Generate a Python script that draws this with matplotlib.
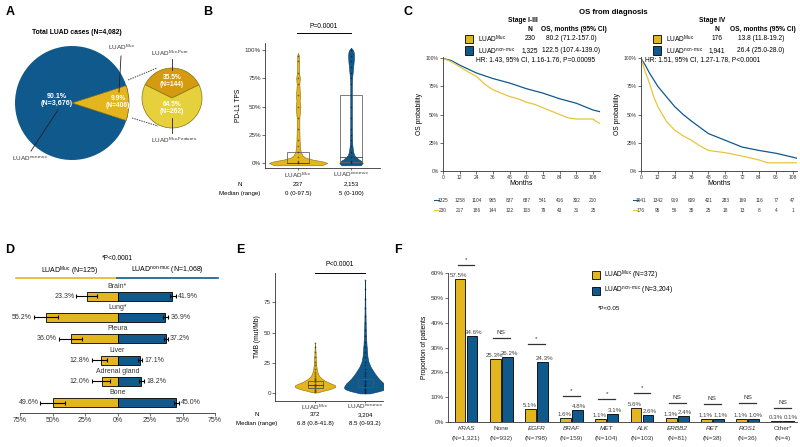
import numpy as np
import matplotlib
matplotlib.use('Agg')
import matplotlib.pyplot as plt
import matplotlib.transforms as mtransforms
from matplotlib.lines import Line2D
from matplotlib.patches import Rectangle

plt.rcParams['font.family'] = ['Liberation Sans', 'DejaVu Sans']
plt.rcParams['mathtext.fontset'] = 'custom'
plt.rcParams['mathtext.rm'] = 'Liberation Sans'
plt.rcParams['mathtext.it'] = 'Liberation Sans:italic'
plt.rcParams['mathtext.bf'] = 'Liberation Sans:bold'

YEL = '#E3B51E'
YEL_KM = '#E8C53A'
BLU = '#10598D'
GOLD = '#D49A10'
LIGHT = '#E6D03C'

MUC = r'LUAD$^{\mathrm{Muc}}$'
NON = 'LUAD$^{\\mathrm{non\u2010muc}}$'
MUC_PURE = 'LUAD$^{\\mathrm{Muc\u2010Pure}}$'
MUC_FEAT = 'LUAD$^{\\mathrm{Muc\u2010Features}}$'

# ---------------- data ----------------
# A: pies
total_vals = [3676, 406]
muc_sub_vals = [144, 262]

# B: PD-L1 TPS violin profiles (value, half width)
tps_muc_grid = [-2, 0, 1, 2, 3, 4, 5, 7, 10, 15, 20, 30, 40, 45, 50, 55, 60, 65, 70, 75, 80, 90, 95, 97.5]
tps_muc_half = [0.45, 0.55, 0.5, 0.4, 0.28, 0.2, 0.13, 0.08, 0.05, 0.035, 0.03, 0.025, 0.025, 0.035,
                0.045, 0.03, 0.04, 0.03, 0.025, 0.035, 0.02, 0.02, 0.015, 0.0]
tps_non_grid = [-2, 0, 1, 2, 3, 5, 7, 10, 15, 20, 30, 40, 50, 60, 70, 75, 80, 85, 90, 95, 98, 100, 102]
tps_non_half = [0.18, 0.22, 0.21, 0.19, 0.15, 0.1, 0.06, 0.04, 0.025, 0.02, 0.015, 0.015, 0.015, 0.015,
                0.015, 0.02, 0.03, 0.04, 0.05, 0.055, 0.05, 0.035, 0.0]
tps_box = {'muc': (0, 0, 10), 'non': (1, 5, 60)}
tps_muc_pts = [0, 1, 2, 5, 10, 15, 20, 30, 40, 50, 60, 70, 75, 80, 90, 95]
tps_non_pts = [0, 1, 2, 5, 10, 15, 20, 25, 30, 40, 50, 60, 70, 75, 80, 85, 90, 95, 100]

# C: KM curves
km_l_blue_m = [0, 6, 12, 24, 36, 48, 60, 72, 84, 96, 108, 113]
km_l_blue_s = [1.0, 0.98, 0.94, 0.87, 0.82, 0.78, 0.73, 0.69, 0.64, 0.60, 0.54, 0.525]
km_l_yel_m = [0, 6, 12, 18, 24, 30, 36, 42, 48, 54, 60, 66, 72, 78, 84, 90, 96, 102, 108, 110, 113]
km_l_yel_s = [1.0, 0.97, 0.925, 0.88, 0.84, 0.77, 0.72, 0.69, 0.66, 0.64, 0.61, 0.59, 0.56, 0.53,
              0.50, 0.47, 0.46, 0.46, 0.46, 0.44, 0.42]
km_r_blue_m = [0, 3, 6, 12, 18, 24, 30, 36, 48, 60, 72, 84, 96, 108, 111]
km_r_blue_s = [1.0, 0.94, 0.87, 0.75, 0.66, 0.57, 0.50, 0.44, 0.33, 0.27, 0.21, 0.18, 0.155, 0.12, 0.11]
km_r_yel_m = [0, 3, 6, 9, 12, 18, 24, 30, 36, 42, 48, 60, 72, 84, 90, 96, 108, 111]
km_r_yel_s = [1.0, 0.88, 0.78, 0.66, 0.57, 0.44, 0.36, 0.31, 0.27, 0.22, 0.18, 0.16, 0.13, 0.095,
              0.07, 0.07, 0.07, 0.07]
risk_months = [0, 12, 24, 36, 48, 60, 72, 84, 96, 108]
risk_l_blue = [1325, 1258, 1104, 965, 837, 687, 541, 416, 302, 210]
risk_l_yel = [230, 217, 186, 144, 122, 103, 79, 43, 31, 25]
risk_r_blue = [1941, 1342, 919, 609, 421, 283, 169, 116, 77, 47]
risk_r_yel = [176, 95, 56, 35, 25, 18, 13, 8, 4, 1]

# D: metastatic sites
sites = ['Brain*', 'Lung*', 'Pleura', 'Liver', 'Adrenal gland', 'Bone']
site_muc = [23.3, 55.2, 36.0, 12.8, 12.0, 49.6]
site_muc_lo = [16.0, 46.0, 27.0, 7.7, 5.6, 40.3]
site_muc_hi = [31.6, 64.5, 45.2, 19.7, 19.7, 59.3]
site_non = [41.9, 36.9, 37.2, 17.1, 18.2, 45.0]
site_non_lo = [40.0, 35.3, 35.5, 15.5, 16.5, 43.5]
site_non_hi = [44.8, 39.2, 39.0, 19.2, 20.5, 47.0]

# E: TMB violin profiles
tmb_muc_grid = [0.8, 2, 3, 4, 5, 6, 7, 8, 10, 12, 14, 16, 20, 25, 30, 35, 41.8]
tmb_muc_half = [0.05, 0.15, 0.25, 0.33, 0.39, 0.41, 0.39, 0.33, 0.22, 0.14, 0.09, 0.06, 0.035,
                0.02, 0.015, 0.01, 0.0]
tmb_non_grid = [0, 1, 2, 3, 4, 5, 6, 8, 10, 12, 15, 18, 22, 26, 30, 35, 40, 50, 60, 70, 80, 93.2]
tmb_non_half = [0.1, 0.2, 0.3, 0.37, 0.41, 0.42, 0.41, 0.38, 0.33, 0.28, 0.22, 0.17, 0.11, 0.07,
                0.05, 0.04, 0.03, 0.018, 0.012, 0.008, 0.005, 0.0]
tmb_muc_pts = [1, 2, 3, 4, 5, 6, 7, 8, 9, 10, 11, 12, 13, 14, 16, 18, 20, 23, 26, 30, 34, 38, 41.8]
tmb_non_pts = [0.5, 1, 2, 3, 4, 5, 6, 7, 8, 9, 10, 12, 14, 16, 18, 20, 23, 26, 30, 34, 38, 42,
               47, 52, 58, 64, 70, 78, 86, 93.2]

# F: driver alterations
genes = ['KRAS', 'None', 'EGFR', 'BRAF', 'MET', 'ALK', 'ERBB2', 'RET', 'ROS1', 'Other*']
gene_italic = [True, False, True, True, True, True, True, True, True, False]
gene_n = ['1,321', '932', '798', '159', '104', '103', '81', '38', '36', '4']
drv_muc = [57.5, 25.3, 5.1, 1.6, 1.1, 5.6, 1.3, 1.1, 1.1, 0.3]
drv_non = [34.6, 26.2, 24.3, 4.8, 3.1, 2.6, 2.4, 1.1, 1.0, 0.1]
drv_sig = ['*', 'NS', '*', '*', '*', '*', 'NS', 'NS', 'NS', 'NS']
drv_sig_y = [63.4, 34.0, 31.5, 10.4, 9.0, 11.7, 7.5, 7.1, 7.5, 5.5]

# ---------------- figure ----------------
W, H = 800, 447
fig = plt.figure(figsize=(8, 4.47), dpi=100)


def pax(x0, y0, x1, y1):
    return fig.add_axes([x0 / W, 1 - y1 / H, (x1 - x0) / W, (y1 - y0) / H])


def ftext(x, y, s, **kw):
    kw.setdefault('ha', 'center')
    kw.setdefault('va', 'center')
    fig.text(x / W, 1 - y / H, s, **kw)


def fline(xs, ys, **kw):
    fig.add_artist(Line2D([x / W for x in xs], [1 - y / H for y in ys], **kw))


def fsquare(x, y, s, color):
    fig.add_artist(Rectangle((x / W, 1 - (y + s) / H), s / W, s / H, transform=fig.transFigure,
                             facecolor=color, edgecolor='k', lw=0.6))


def style_axes(ax, fs=4.5):
    for side in ['top', 'right']:
        ax.spines[side].set_visible(False)
    for side in ['left', 'bottom']:
        ax.spines[side].set_linewidth(0.6)
        ax.spines[side].set_color('#333333')
    ax.tick_params(length=2, width=0.5, labelsize=fs, pad=1, colors='#333333')


# panel letters
for letter, (x, y) in zip('ABCDEF', [(10, 12), (208, 12), (408, 12), (10, 250), (240, 250), (398, 250)]):
    ftext(x, y, letter, fontsize=9, fontweight='bold')

# ---------------- A ----------------
axA = pax(0, 0, 230, 230)
wedges, _ = axA.pie(total_vals, colors=[BLU, YEL], startangle=17.8, center=(72, 127), radius=57,
                    wedgeprops=dict(linewidth=0))
wedges[1].set_edgecolor('#6b5a12')
wedges[1].set_linewidth(0.5)
w2, _ = axA.pie(muc_sub_vals, colors=[GOLD, LIGHT], startangle=26.1, center=(172, 132), radius=30,
                wedgeprops=dict(linewidth=0.6, edgecolor='white'))
for w in w2:
    w.set_edgecolor('#8a7010')
    w.set_linewidth(0.5)
axA.set_xlim(0, 230)
axA.set_ylim(0, 230)
axA.set_aspect('equal')
axA.axis('off')

ftext(77, 32, 'Total LUAD cases (N=4,082)', fontsize=4.9, fontweight='bold')
ftext(57, 100, '90.1%\n(N=3,676)', fontsize=5.1, fontweight='bold', color='white', linespacing=1.1)
ftext(118, 102, '9.9%\n(N=406)', fontsize=4.8, fontweight='bold', color='white', linespacing=1.1)
ftext(172, 81, '35.5%\n(N=144)', fontsize=4.8, fontweight='bold', color='white', linespacing=1.1)
ftext(172, 108, '64.5%\n(N=262)', fontsize=4.8, fontweight='bold', color='white', linespacing=1.1)
ftext(122, 47, MUC, fontsize=4.6, color='#333333')
fline([121, 119], [56, 92], color='#222222', lw=0.6)
ftext(30, 159, NON, fontsize=4.6, color='#333333')
fline([31, 58], [151, 110], color='#222222', lw=0.6)
ftext(170, 53, MUC_PURE, fontsize=4.6, color='#333333')
fline([172, 172], [59, 70], color='#222222', lw=0.6)
ftext(174, 140, MUC_FEAT, fontsize=4.6, color='#333333')
fline([172, 172], [118, 133], color='#222222', lw=0.6)
fline([128, 157], [80, 68], color='#444444', lw=0.7, ls=(0, (1.5, 1)))
fline([132, 158], [118, 126], color='#444444', lw=0.7, ls=(0, (1.5, 1)))

# ---------------- B ----------------
axB = pax(265, 43, 380, 168)
for pos, grid, half, col, ec in [(1, tps_muc_grid, tps_muc_half, YEL, '#8a6d0a'),
                                 (2, tps_non_grid, tps_non_half, BLU, '#0a3a5c')]:
    g = np.array(grid)
    hw = np.array(half)
    axB.fill_betweenx(g, pos - hw, pos + hw, facecolor=col, edgecolor=ec, lw=0.4, zorder=2)
for pos, key in [(1, 'muc'), (2, 'non')]:
    q1, med, q3 = tps_box[key]
    axB.add_patch(Rectangle((pos - 0.21, q1), 0.42, q3 - q1, fill=False, ec='#666666', lw=0.6, zorder=3))
    axB.plot([pos - 0.21, pos + 0.21], [med, med], color='#444444', lw=0.6, zorder=3)
axB.scatter([1] * len(tps_muc_pts), tps_muc_pts, s=1.5, c='k', alpha=0.45, lw=0, zorder=4)
axB.scatter([2] * len(tps_non_pts), tps_non_pts, s=1.5, c='k', alpha=0.45, lw=0, zorder=4)
axB.set_xlim(0.377, 2.546)
axB.set_ylim(-4.4, 106.2)
axB.set_yticks([0, 25, 50, 75, 100])
axB.set_yticklabels(['0%', '25%', '50%', '75%', '100%'])
axB.set_xticks([1, 2])
axB.set_xticklabels([MUC, NON])
style_axes(axB, 4.5)
axB.tick_params(axis='x', labelsize=4.6, length=1.5, pad=0.3)
axB.set_ylabel('PD-L1 TPS', fontsize=4.8, labelpad=2)
fline([297, 351], [33, 33], color='k', lw=0.7)
ftext(324, 27, 'P=0.0001', fontsize=4.8)
ftext(240, 184, 'N', fontsize=4.4)
ftext(240, 193, 'Median (range)', fontsize=4.4)
ftext(298, 184, '237', fontsize=4.4)
ftext(298, 193, '0 (0-97.5)', fontsize=4.4)
ftext(351, 184, '2,153', fontsize=4.4)
ftext(351, 193, '5 (0-100)', fontsize=4.4)

# ---------------- C ----------------
ftext(613, 12, 'OS from diagnosis', fontsize=5.6, fontweight='bold')
km_panels = [
    (pax(443, 57, 600, 171), 113, km_l_blue_m, km_l_blue_s, km_l_yel_m, km_l_yel_s,
     risk_l_blue, risk_l_yel, 437),
    (pax(641, 57, 797, 171), 111, km_r_blue_m, km_r_blue_s, km_r_yel_m, km_r_yel_s,
     risk_r_blue, risk_r_yel, 636),
]
for ax, xmax, bm, bs, ym, ys, rb, ry, dash_x in km_panels:
    ax.plot(bm, bs, color=BLU, lw=0.9)
    ax.plot(ym, ys, color=YEL_KM, lw=0.9)
    ax.set_xlim(0, xmax)
    ax.set_ylim(-0.003, 1.012)
    ax.set_xticks(risk_months)
    ax.set_yticks([0, 0.25, 0.5, 0.75, 1.0])
    ax.set_yticklabels(['0%', '25%', '50%', '75%', '100%'])
    style_axes(ax, 3.6)
    ax.set_xlabel('Months', fontsize=5, labelpad=0)
    ax.set_ylabel('OS probability', fontsize=4.8, labelpad=2)
    tr = mtransforms.blended_transform_factory(ax.transData, fig.transFigure)
    for m, nb, ny in zip(risk_months, rb, ry):
        ax.text(m, 1 - 200 / H, str(nb), transform=tr, fontsize=3.4, ha='center', va='center', color='#333333')
        ax.text(m, 1 - 210 / H, str(ny), transform=tr, fontsize=3.4, ha='center', va='center', color='#333333')
    fline([dash_x - 3, dash_x + 2], [200, 200], color=BLU, lw=0.8)
    fline([dash_x - 3, dash_x + 2], [210, 210], color=YEL_KM, lw=0.8)

# C legends
ftext(523, 20, 'Stage I-III', fontsize=4.8, fontweight='bold')
ftext(530, 29.5, 'N', fontsize=4.8, fontweight='bold')
ftext(574, 29.5, 'OS, months (95% CI)', fontsize=4.8, fontweight='bold')
fsquare(465, 35, 8, YEL)
fsquare(465, 46.5, 8, BLU)
ftext(478, 39, MUC, fontsize=4.8, ha='left')
ftext(478, 50.5, NON, fontsize=4.8, ha='left')
ftext(530, 39, '230', fontsize=4.8)
ftext(530, 50.5, '1,325', fontsize=4.8)
ftext(571, 39, '80.2 (71.2-157.0)', fontsize=4.8)
ftext(571, 50.5, '122.5 (107.4-139.0)', fontsize=4.8)
ftext(476, 60, 'HR: 1.43, 95% CI, 1.16-1.76, P=0.00095', fontsize=4.8, ha='left')

ftext(712, 20, 'Stage IV', fontsize=4.8, fontweight='bold')
ftext(717, 29.5, 'N', fontsize=4.8, fontweight='bold')
ftext(763, 29.5, 'OS, months (95% CI)', fontsize=4.8, fontweight='bold')
fsquare(653, 35, 8, YEL)
fsquare(653, 46.5, 8, BLU)
ftext(666, 39, MUC, fontsize=4.8, ha='left')
ftext(666, 50.5, NON, fontsize=4.8, ha='left')
ftext(717, 39, '176', fontsize=4.8)
ftext(717, 50.5, '1,941', fontsize=4.8)
ftext(761, 39, '13.8 (11.8-19.2)', fontsize=4.8)
ftext(761, 50.5, '26.4 (25.0-28.0)', fontsize=4.8)
ftext(645, 60, 'HR: 1.51, 95% CI, 1.27-1.78, P<0.0001', fontsize=4.8, ha='left')

# ---------------- D ----------------
axD = pax(20, 285, 215, 412.7)
idx = np.arange(len(sites))
muc = np.array(site_muc)
non = np.array(site_non)
axD.barh(idx, -muc, height=0.42, color=YEL, edgecolor='k', lw=0.6, zorder=2)
axD.barh(idx, non, height=0.42, color=BLU, edgecolor='k', lw=0.6, zorder=2)
axD.errorbar(-muc, idx, xerr=[np.array(site_muc_hi) - muc, muc - np.array(site_muc_lo)],
             fmt='none', ecolor='k', elinewidth=0.8, capsize=1.5, capthick=0.8, zorder=3)
axD.errorbar(non, idx, xerr=[non - np.array(site_non_lo), np.array(site_non_hi) - non],
             fmt='none', ecolor='k', elinewidth=0.8, capsize=1.5, capthick=0.8, zorder=3)
for i in idx:
    axD.text(-site_muc_hi[i] - 1.5, i, f'{site_muc[i]:.1f}%', fontsize=5, ha='right', va='center', color='#333333')
    axD.text(site_non_hi[i] + 1.5, i, f'{site_non[i]:.1f}%', fontsize=5, ha='left', va='center', color='#333333')
    axD.text(0, i - 0.47, sites[i], fontsize=5, ha='center', va='center', color='#333333')
axD.set_xlim(-75, 75)
axD.set_ylim(5.47, -0.52)
axD.set_xticks([-75, -50, -25, 0, 25, 50, 75])
axD.set_xticklabels(['75%', '50%', '25%', '0%', '25%', '50%', '75%'])
axD.set_yticks([])
style_axes(axD, 5)
axD.spines['left'].set_visible(False)
ftext(117, 259, '*P<0.0001', fontsize=4.8)
ftext(70, 271, MUC + ' (N=125)', fontsize=5)
ftext(167, 271, NON + ' (N=1,068)', fontsize=5)
fline([16, 117], [278, 278], color=YEL, lw=1.2)
fline([117, 218], [278, 278], color=BLU, lw=1.2)

# ---------------- E ----------------
axE = pax(275, 273, 383, 400.7)
for pos, grid, half, col, ec in [(1, tmb_muc_grid, tmb_muc_half, YEL, '#8a6d0a'),
                                 (2, tmb_non_grid, tmb_non_half, BLU, '#0a3a5c')]:
    g = np.array(grid)
    hw = np.array(half)
    axE.fill_betweenx(g, pos - hw, pos + hw, facecolor=col, edgecolor=ec, lw=0.4, zorder=2)
axE.add_patch(Rectangle((1 - 0.15, 4.2), 0.3, 5.8, fill=False, ec='#555555', lw=0.6, zorder=4))
axE.plot([0.85, 1.15], [6.8, 6.8], color='#333333', lw=0.6, zorder=4)
axE.add_patch(Rectangle((2 - 0.15, 5), 0.3, 7, fill=False, ec='#555555', lw=0.6, zorder=4))
axE.scatter([1] * len(tmb_muc_pts), tmb_muc_pts, s=2, c='k', alpha=0.4, lw=0, zorder=3)
axE.scatter([2] * len(tmb_non_pts), tmb_non_pts, s=2, c='k', alpha=0.4, lw=0, zorder=3)
axE.set_xlim(0.2, 2.36)
axE.set_ylim(-6, 99)
axE.set_yticks([0, 25, 50, 75])
axE.set_xticks([1, 2])
axE.set_xticklabels([MUC, NON])
style_axes(axE, 4.5)
axE.tick_params(axis='x', labelsize=4.6, length=1.5, pad=0.3)
axE.set_ylabel('TMB (mut/Mb)', fontsize=4.8, labelpad=2)
fline([315, 365], [272.7, 272.7], color='k', lw=0.7)
ftext(340, 265, 'P<0.0001', fontsize=4.8)
ftext(257, 414.5, 'N', fontsize=4.4)
ftext(257, 424, 'Median (range)', fontsize=4.4)
ftext(315, 414.5, '372', fontsize=4.4)
ftext(315, 424, '6.8 (0.8-41.8)', fontsize=4.4)
ftext(365, 414.5, '3,204', fontsize=4.4)
ftext(365, 424, '8.5 (0-93.2)', fontsize=4.4)

# ---------------- F ----------------
axF = pax(448, 273.3, 797, 421.7)
xg = np.arange(len(genes))
axF.bar(xg - 0.17, drv_muc, 0.31, color=YEL, edgecolor='k', lw=0.6, zorder=2)
axF.bar(xg + 0.17, drv_non, 0.31, color=BLU, edgecolor='k', lw=0.6, zorder=2)
for i in xg:
    axF.text(i - 0.2, drv_muc[i] + 0.4, f'{drv_muc[i]:.1f}%', fontsize=4.4, ha='center', va='bottom', color='#444444')
    axF.text(i + 0.22, drv_non[i] + 0.4, f'{drv_non[i]:.1f}%', fontsize=4.4, ha='center', va='bottom', color='#444444')
    axF.plot([i - 0.24, i + 0.24], [drv_sig_y[i], drv_sig_y[i]], color='#333333', lw=0.9, clip_on=False)
    axF.text(i, drv_sig_y[i] + 1.2, drv_sig[i], fontsize=4.6, ha='center', va='bottom', color='#333333', clip_on=False)
    axF.text(i, -0.049, genes[i], transform=axF.get_xaxis_transform(), fontsize=4.6, ha='center', va='center',
             style='italic' if gene_italic[i] else 'normal', color='#333333')
    axF.text(i, -0.11, f'(N={gene_n[i]})', transform=axF.get_xaxis_transform(), fontsize=4.6, ha='center',
             va='center', color='#333333')
axF.set_xlim(-0.511, 9.404)
axF.set_ylim(0, 60)
axF.set_xticks([])
axF.set_yticks([0, 10, 20, 30, 40, 50, 60])
axF.set_yticklabels([f'{v}%' for v in range(0, 70, 10)])
style_axes(axF, 4.6)
axF.set_ylabel('Proportion of patients', fontsize=4.8, labelpad=2)
fsquare(592, 271, 7.5, YEL)
fsquare(592, 287, 7.5, BLU)
ftext(604, 275, MUC + ' (N=372)', fontsize=4.8, ha='left')
ftext(604, 291, NON + ' (N=3,204)', fontsize=4.8, ha='left')
ftext(598, 309, '*P<0.05', fontsize=4.5, ha='left')

fig.savefig('out.png', dpi=100)
